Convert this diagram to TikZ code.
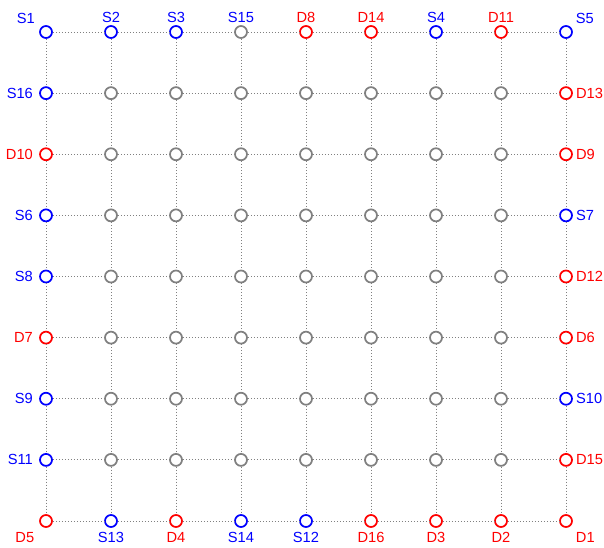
\documentclass[tikz,border=0pt]{standalone}
\usepackage{fontspec}
\setmainfont{Liberation Sans}
\usetikzlibrary{positioning}
\definecolor{cSrc}{HTML}{0000FF}
\definecolor{cDet}{HTML}{FF0000}
\definecolor{cNone}{HTML}{808080}

\begin{document}
\begin{tikzpicture}[x=0.75pt, y=-0.75pt,
  every node/.style={font=\fontsize{11}{13}\selectfont},
  opt/.style={circle, draw=#1, line width=1.3pt, minimum size=9pt,
    inner sep=0pt, fill=white},
  tag/.style={text=#1, inner sep=1pt},
  link/.style={draw=cNone, line width=0.65pt, dash pattern=on 0.75pt off 1.5pt}]

  \useasboundingbox (0,0) rectangle (604,547);

  % inner optodes
  \foreach \c in {2,...,8}
    \foreach \r in {2,...,8}
      \node[opt=cNone] (o-\c-\r) at ({46+65*(\c-1)},{32+61.125*(\r-1)}) {};

  % corners
  \node[opt=cSrc] (o-1-1) at (46,32) {};
  \node[opt=cSrc] (o-9-1) at (566,32) {};
  \node[opt=cDet] (o-1-9) at (46,521) {};
  \node[opt=cDet] (o-9-9) at (566,521) {};
  \node[tag=cSrc, above left=1.5pt and 3.5pt of o-1-1] (t-S1) {S1};
  \node[tag=cSrc, above right=1.5pt and 2.5pt of o-9-1] (t-S5) {S5};
  \node[tag=cDet, below left=3.4pt and 4pt of o-1-9] (t-D5) {D5};
  \node[tag=cDet, below right=3.4pt and 2.6pt of o-9-9] (t-D1) {D1};

  % top row
  \foreach \c/\rim/\ink/\txt in {2/cSrc/cSrc/S2, 3/cSrc/cSrc/S3,
      4/cNone/cSrc/S15, 5/cDet/cDet/D8, 6/cDet/cDet/D14, 7/cSrc/cSrc/S4,
      8/cDet/cDet/D11} {
    \node[opt=\rim] (o-\c-1) at ({46+65*(\c-1)},32) {};
    \node[tag=\ink, above=0.5pt of o-\c-1] (t-\txt) {\txt};
  }

  % bottom row
  \foreach \c/\ink/\txt in {2/cSrc/S13, 3/cDet/D4, 4/cSrc/S14, 5/cSrc/S12,
      6/cDet/D16, 7/cDet/D3, 8/cDet/D2} {
    \node[opt=\ink] (o-\c-9) at ({46+65*(\c-1)},521) {};
    \node[tag=\ink, below=2pt of o-\c-9] (t-\txt) {\txt};
  }

  % left column
  \foreach \r/\ink/\txt in {2/cSrc/S16, 3/cDet/D10, 4/cSrc/S6, 5/cSrc/S8,
      6/cDet/D7, 7/cSrc/S9, 8/cSrc/S11} {
    \node[opt=\ink] (o-1-\r) at (46,{32+61.125*(\r-1)}) {};
    \node[tag=\ink, left=3.5pt of o-1-\r] (t-\txt) {\txt};
  }

  % right column
  \foreach \r/\ink/\txt in {2/cDet/D13, 3/cDet/D9, 4/cSrc/S7, 5/cDet/D12,
      6/cDet/D6, 7/cSrc/S10, 8/cDet/D15} {
    \node[opt=\ink] (o-9-\r) at (566,{32+61.125*(\r-1)}) {};
    \node[tag=\ink, right=1.25pt of o-9-\r] (t-\txt) {\txt};
  }

  % dotted grid
  \foreach \a [count=\b from 2] in {1,...,8}
    \foreach \k in {1,...,9} {
      \draw[link] (o-\a-\k) -- (o-\b-\k);
      \draw[link] (o-\k-\a) -- (o-\k-\b);
    }
\end{tikzpicture}
\end{document}
